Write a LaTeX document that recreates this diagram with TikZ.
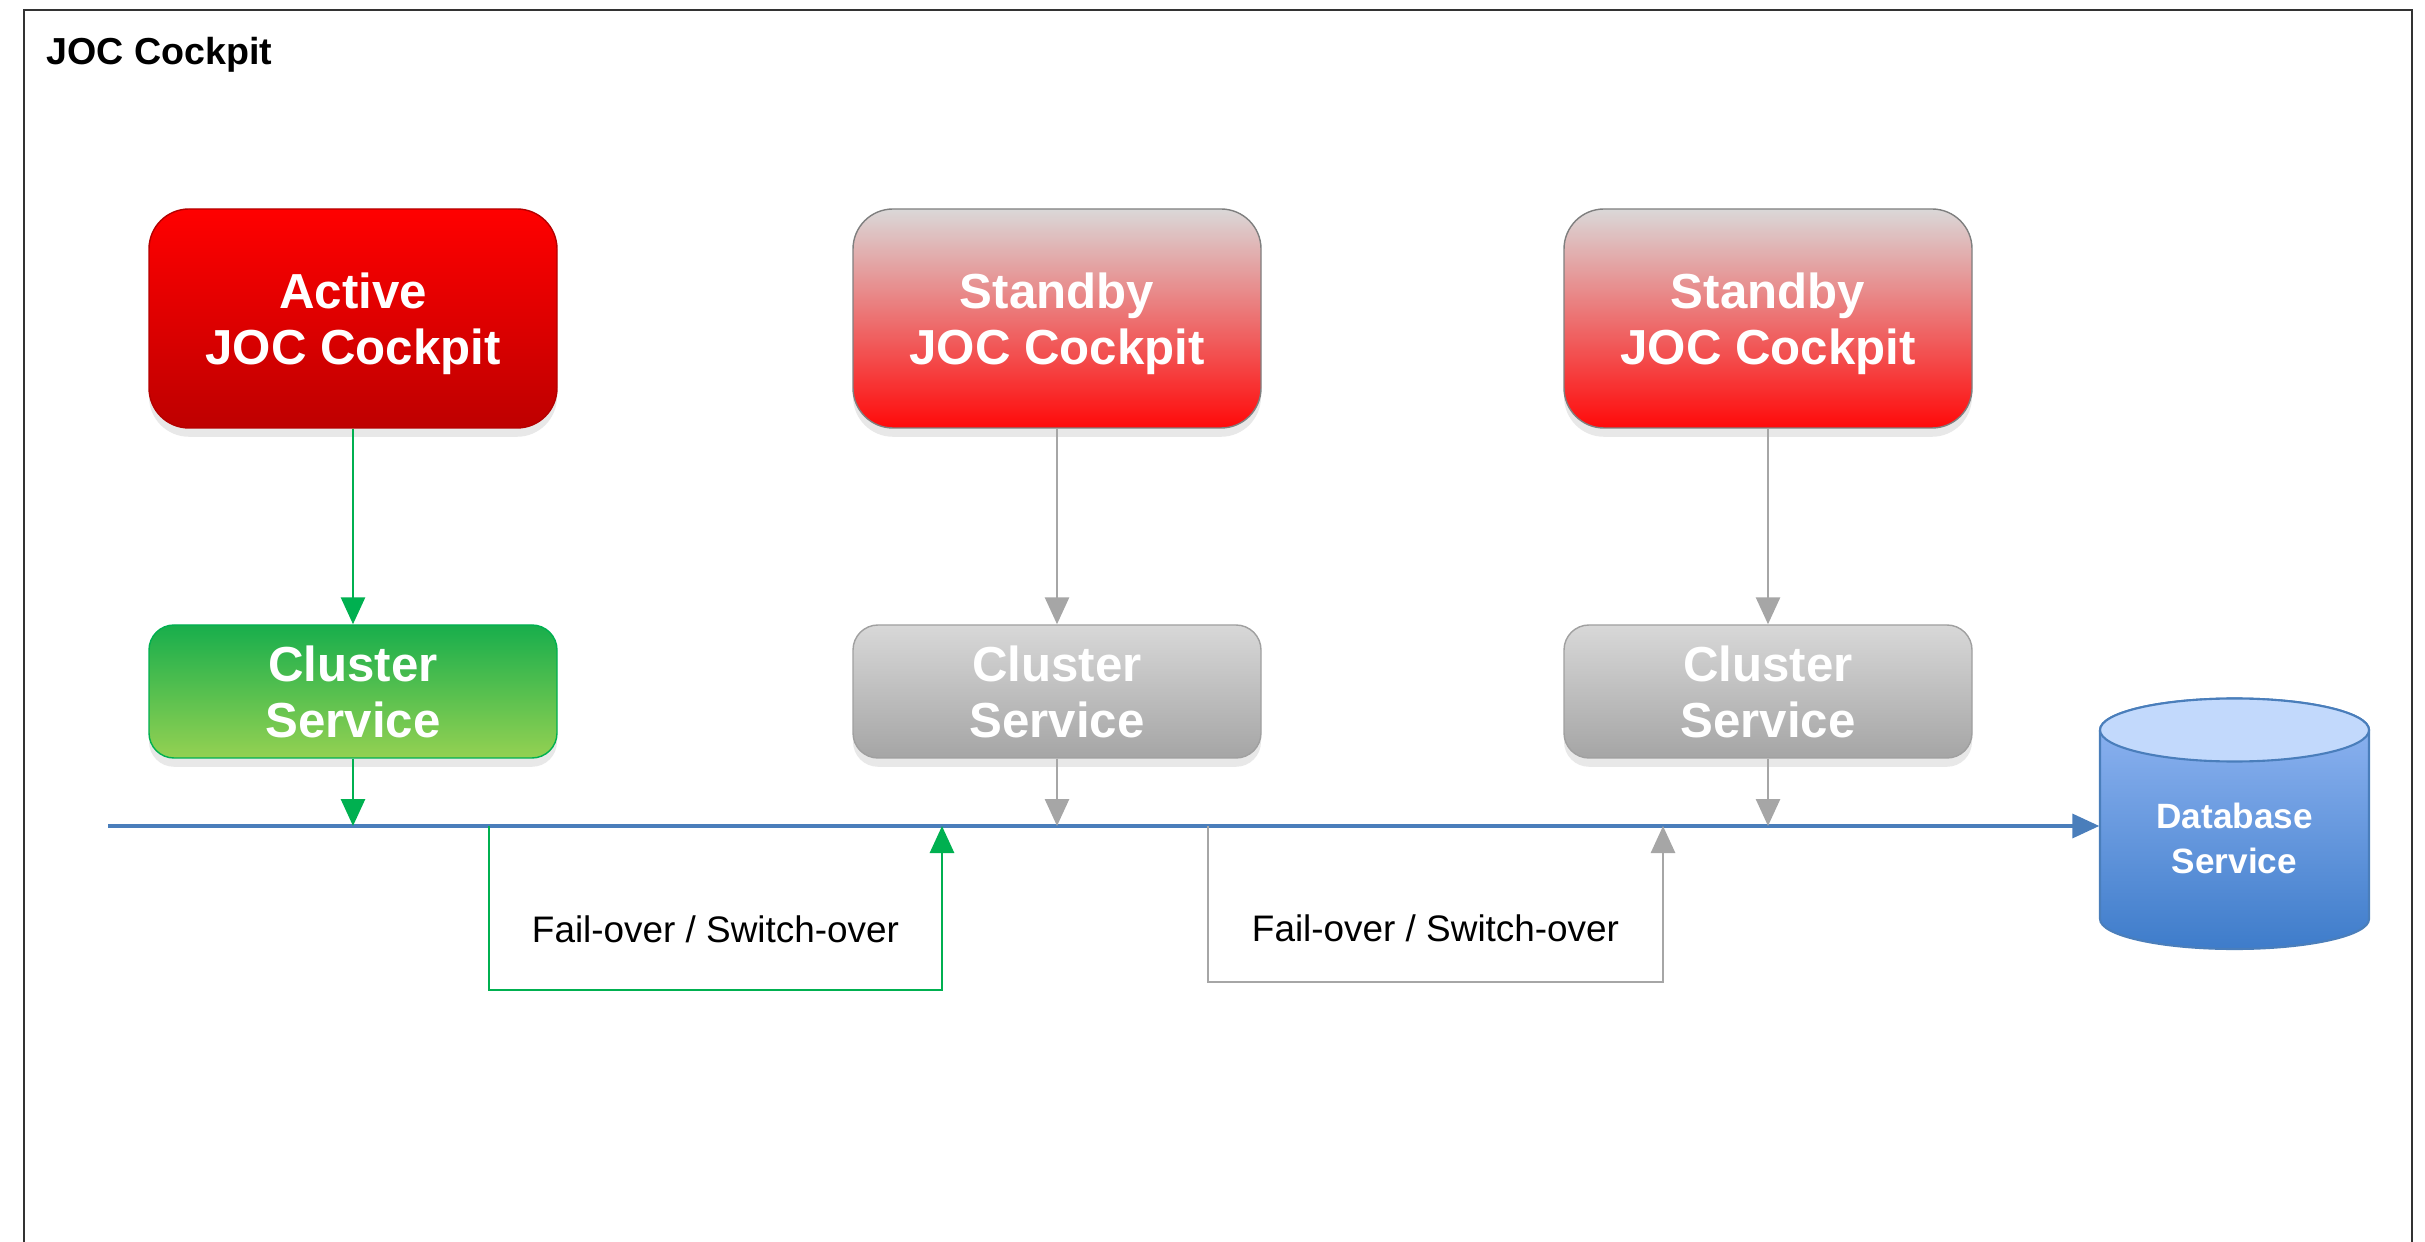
\documentclass[tikz,border=0pt]{standalone}
\usepackage{fontspec}
\setmainfont{Liberation Sans}
\usetikzlibrary{arrows.meta}
\usetikzlibrary{shadows}
\definecolor{activetop}{HTML}{FF0000}
\definecolor{activebottom}{HTML}{BE0000}
\definecolor{activeline}{HTML}{B40000}
\definecolor{standbytop}{HTML}{DAD8D8}
\definecolor{standbybottom}{HTML}{FF0A0A}
\definecolor{standbyline}{HTML}{7F7F7F}
\definecolor{servicetop}{HTML}{18AE4C}
\definecolor{servicebottom}{HTML}{94D152}
\definecolor{serviceline}{HTML}{00B050}
\definecolor{idletop}{HTML}{D8D8D8}
\definecolor{idlebottom}{HTML}{A5A5A5}
\definecolor{idleline}{HTML}{A0A0A0}
\definecolor{linkgreen}{HTML}{00B050}
\definecolor{linkgray}{HTML}{A6A6A6}
\definecolor{busblue}{HTML}{4A7EBB}
\definecolor{dbtop}{HTML}{C2D9FC}
\definecolor{dbmid}{HTML}{94B8F4}
\definecolor{dbbottom}{HTML}{3E7CCA}
\tikzstyle{box}=[rounded corners=0.4cm, minimum width=4.08cm, minimum height=2.19cm, text=white, align=center, text depth=0pt, font=\fontsize{14}{16}\selectfont\bfseries, drop shadow={shadow xshift=0pt, shadow yshift=-2.5pt, opacity=0.18}]
\tikzstyle{active box}=[box, top color=activetop, bottom color=activebottom, draw=activeline]
\tikzstyle{standby box}=[box, top color=standbytop, bottom color=standbybottom, draw=standbyline]
\tikzstyle{service}=[box, rounded corners=0.25cm, minimum height=1.33cm]
\tikzstyle{active service}=[service, top color=servicetop, bottom color=servicebottom, draw=serviceline]
\tikzstyle{idle service}=[service, top color=idletop, bottom color=idlebottom, draw=idleline]
\tikzstyle{green link}=[draw=linkgreen, line width=0.8pt, ->]
\tikzstyle{gray link}=[draw=linkgray, line width=0.8pt, ->]
\tikzstyle{bus}=[draw=busblue, line width=1pt, ->]
\tikzstyle{fail label}=[font=\fontsize{10.5}{12}\selectfont, text=black]
\tikzstyle{database}=[minimum width=2.69cm, minimum height=2.5cm, text=white, align=center, font=\fontsize{10}{12.8}\selectfont\bfseries]

\begin{document}
\begin{tikzpicture}[>={Triangle[width=0.24cm, length=0.27cm]}]
      \useasboundingbox (0,0) rectangle (24.25,-12.42);
      \draw[black!80, line width=0.7pt] (0.24,-12.42) -- (0.24,-0.10) -- (24.12,-0.10) -- (24.12,-12.42);
      \node[anchor=west, inner sep=0pt, font=\fontsize{10.7}{13}\selectfont\bfseries] (title) at (0.46,-0.55) {JOC Cockpit};

      \node[active box] (active) at (3.53,-3.185) {Active\\JOC Cockpit};
      \node[standby box] (standby_a) at (10.57,-3.185) {Standby\\JOC Cockpit};
      \node[standby box] (standby_b) at (17.68,-3.185) {Standby\\JOC Cockpit};
      \node[active service] (service_active) at (3.53,-6.915) {Cluster\\Service};
      \node[idle service] (service_a) at (10.57,-6.915) {Cluster\\Service};
      \node[idle service] (service_b) at (17.68,-6.915) {Cluster\\Service};

      \shade[top color=dbmid, bottom color=dbbottom, draw=busblue, line width=0.6pt]
        (21.0,-7.30) -- (21.0,-9.19) arc[start angle=180, end angle=360, x radius=1.345cm, y radius=0.3cm]
        -- (23.69,-7.30) arc[start angle=0, end angle=180, x radius=1.345cm, y radius=0.315cm] -- cycle;
      \filldraw[fill=dbtop, draw=busblue, line width=0.6pt] (22.345,-7.30) ellipse [x radius=1.345cm, y radius=0.315cm];
      \node[database] (db) at (22.345,-8.38) {Database\\Service};

      \coordinate (bus_start) at (1.08,-8.26);
      \coordinate (fail_a_out) at (4.89,-8.26);
      \coordinate (fail_a_in) at (9.42,-8.26);
      \coordinate (fail_b_out) at (12.08,-8.26);
      \coordinate (fail_b_in) at (16.63,-8.26);

      \draw[bus] (bus_start) -- (bus_start -| db.west);
      \draw[green link] (active) -- (service_active);
      \draw[gray link] (standby_a) -- (service_a);
      \draw[gray link] (standby_b) -- (service_b);
      \draw[green link] (service_active) -- (service_active |- bus_start);
      \draw[gray link] (service_a) -- (service_a |- bus_start);
      \draw[gray link] (service_b) -- (service_b |- bus_start);
      \draw[green link] (fail_a_out) -- ++(0,-1.64)
        -| node[pos=0.25, yshift=0.61cm, fail label] {Fail-over / Switch-over} (fail_a_in);
      \draw[gray link] (fail_b_out) -- ++(0,-1.56)
        -| node[pos=0.25, yshift=0.54cm, fail label] {Fail-over / Switch-over} (fail_b_in);
\end{tikzpicture}
\end{document}
